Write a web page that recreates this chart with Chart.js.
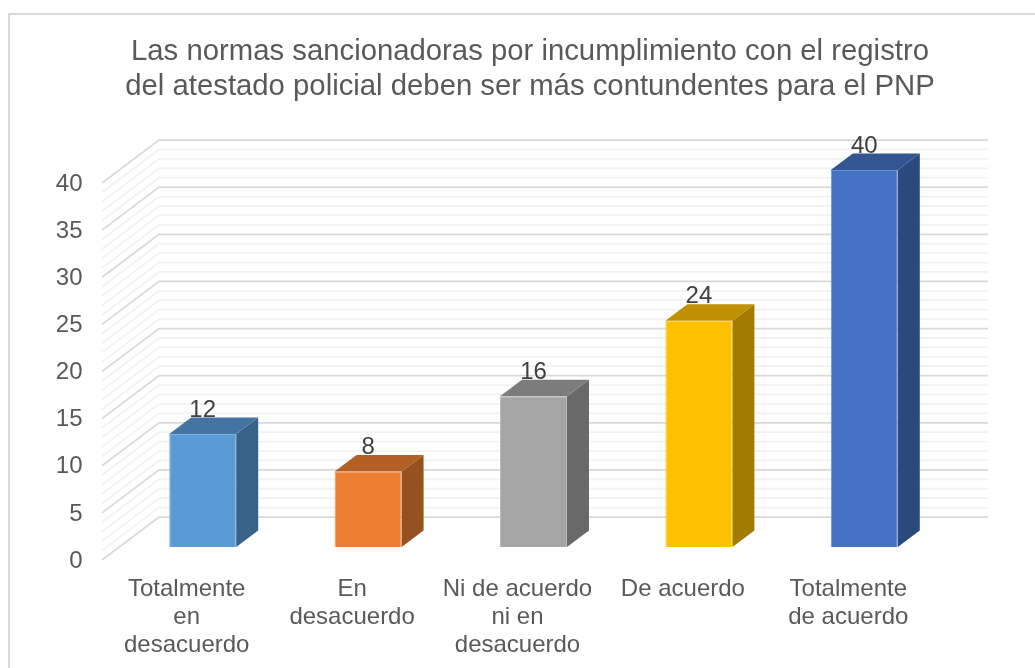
<!DOCTYPE html>
<html>
<head>
<meta charset="utf-8">
<title>Normas sancionadoras</title>
<script src="https://cdn.jsdelivr.net/npm/chart.js@4/dist/chart.umd.min.js"></script>
<style>
    html, body { margin: 0; padding: 0; background: #fff; overflow: hidden; }
    #wrap { position: absolute; left: 0; top: 0; width: 1035px; height: 668px; overflow: hidden; }
    #frame { position: absolute; left: 8px; top: 13px; width: 1040px; height: 670px; border: 2px solid #D9D9D9; box-sizing: border-box; }
    canvas { position: absolute; left: 0; top: 0; }
</style>
</head>
<body>
<div id="wrap">
    <div id="frame"></div>
    <canvas id="chart" width="1035" height="668"></canvas>
</div>
<script>
// Values
const categories = [
    ['Totalmente', 'en', 'desacuerdo'],
    ['En', 'desacuerdo'],
    ['Ni de acuerdo', 'ni en', 'desacuerdo'],
    'De acuerdo',
    ['Totalmente', 'de acuerdo']
];
const values = [12, 8, 16, 24, 40];
const frontColors = ['#5B9BD5', '#ED7D31', '#A5A5A5', '#FFC000', '#4472C4'];
const edgeColors = ['#7FB1DE', '#F29A5F', '#BBBBBB', '#FFCF40', '#6F93D2'];
const topColors = ['#4474A1', '#B25E25', '#7C7C7C', '#BF9000', '#335693'];
const sideColors = ['#386288', '#97501F', '#696969', '#A37B00', '#2A4A7D'];
const titleLines = [
    'Las normas sancionadoras por incumplimiento con el registro',
    'del atestado policial deben ser más contundentes para el PNP'
];

const FONT = '"Liberation Sans", Arial, sans-serif';
const TEXT = '#595959';

// Fake 3D: offsets of the box walls and bar depth, relative to the plot area
const wallFront = { dx: -18, dy: 13 };
const wallBack = { dx: 39, dy: -30, right: 41 };
const barDepth = { dx: 22, dy: -16.5 };

const walls3d = {
    id: 'walls3d',
    beforeDatasetsDraw(chart) {
        const { ctx, chartArea, scales: { y } } = chart;
        ctx.save();
        // minor lines first so the major ones sit on top
        for (const major of [false, true]) {
            ctx.strokeStyle = major ? '#D9D9D9' : '#F2F2F2';
            ctx.lineWidth = 1.75;
            for (let v = 0; v <= 40; v++) {
                if ((v % 5 === 0) !== major) continue;
                const py = y.getPixelForValue(v);
                ctx.beginPath();
                ctx.moveTo(chartArea.left + wallFront.dx, py + wallFront.dy);
                ctx.lineTo(chartArea.left + wallBack.dx, py + wallBack.dy);
                ctx.lineTo(chartArea.right + wallBack.right, py + wallBack.dy);
                ctx.stroke();
            }
        }
        // side and top faces of each bar
        chart.getDatasetMeta(0).data.forEach((bar, i) => {
            const p = bar.getProps(['x', 'y', 'base', 'width'], true);
            const l = p.x - p.width / 2, r = p.x + p.width / 2;
            ctx.fillStyle = sideColors[i];
            ctx.beginPath();
            ctx.moveTo(r, p.y);
            ctx.lineTo(r + barDepth.dx, p.y + barDepth.dy);
            ctx.lineTo(r + barDepth.dx, p.base + barDepth.dy);
            ctx.lineTo(r, p.base);
            ctx.closePath();
            ctx.fill();
            ctx.fillStyle = topColors[i];
            ctx.beginPath();
            ctx.moveTo(l, p.y);
            ctx.lineTo(l + barDepth.dx, p.y + barDepth.dy);
            ctx.lineTo(r + barDepth.dx, p.y + barDepth.dy);
            ctx.lineTo(r, p.y);
            ctx.closePath();
            ctx.fill();
        });
        ctx.restore();
    },
    afterDatasetsDraw(chart) {
        const { ctx } = chart;
        ctx.save();
        ctx.font = '24px ' + FONT;
        ctx.fillStyle = '#404040';
        ctx.textAlign = 'center';
        ctx.textBaseline = 'middle';
        chart.getDatasetMeta(0).data.forEach((bar, i) => {
            const p = bar.getProps(['x', 'y'], true);
            ctx.fillText(String(values[i]), p.x, p.y - 24);
        });
        ctx.restore();
    }
};

new Chart(document.getElementById('chart'), {
    type: 'bar',
    data: {
        labels: categories,
        datasets: [{
            data: values,
            backgroundColor: frontColors,
            borderColor: edgeColors,
            borderWidth: 1,
            barPercentage: 0.405,
            categoryPercentage: 1
        }]
    },
    plugins: [walls3d],
    options: {
        responsive: false,
        animation: false,
        layout: { padding: { left: 40, right: 15, top: 0, bottom: 0 } },
        plugins: {
            legend: { display: false },
            tooltip: { enabled: false },
            title: {
                display: true,
                text: titleLines,
                color: TEXT,
                font: { family: FONT, size: 29.3, weight: 'normal', lineHeight: 1.2 },
                padding: { top: 34.4, bottom: 65.3 }
            }
        },
        scales: {
            x: {
                grid: { display: false, drawTicks: false },
                border: { display: false },
                ticks: {
                    color: TEXT,
                    font: { family: FONT, size: 24, lineHeight: 1.17 },
                    labelOffset: -16,
                    padding: 28,
                    maxRotation: 0,
                    autoSkip: false
                },
                afterFit(scale) { scale.height = 121; }
            },
            y: {
                min: 0,
                max: 40,
                grid: { display: false, drawTicks: false },
                border: { display: false },
                ticks: {
                    stepSize: 5,
                    color: TEXT,
                    font: { family: FONT, size: 24 },
                    padding: 37.5,
                    labelOffset: 14
                },
                afterFit(scale) { scale.width = 80; }
            },
            // empty axis, only reserves the room right of the plot area
            spacer: {
                type: 'linear',
                position: 'right',
                grid: { display: false, drawTicks: false },
                border: { display: false },
                ticks: { display: false },
                afterFit(scale) { scale.width = 73; }
            }
        }
    }
});
</script>
</body>
</html>
